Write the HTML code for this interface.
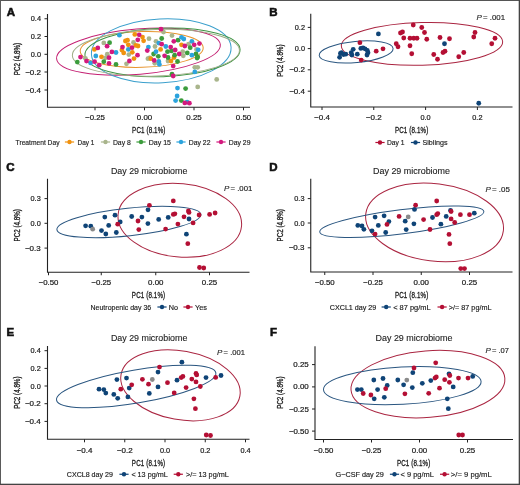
<!DOCTYPE html>
<html><head><meta charset="utf-8"><style>
html,body{margin:0;padding:0;width:520px;height:485px;overflow:hidden;background:#fff;}
svg text{font-family:"Liberation Sans", sans-serif;}
svg{filter:contrast(1);}
</style></head><body>
<svg width="520" height="485" viewBox="0 0 520 485" style="position:absolute;left:0;top:0">
<rect x="0" y="0" width="520" height="485" fill="#fff"/>
<text x="6.7" y="15.6" font-size="11.5" text-anchor="start" font-weight="bold" fill="#111" stroke="#111" stroke-width="0.6" font-style="normal">A</text>
<ellipse cx="138.46" cy="51.65" rx="82.16" ry="22.64" transform="rotate(-4.93 138.46 51.65)" fill="none" stroke="#C41F72" stroke-width="1.0"/>
<ellipse cx="141.69" cy="49.39" rx="61.52" ry="17.92" transform="rotate(-1.58 141.69 49.39)" fill="none" stroke="#E8952E" stroke-width="1.0"/>
<ellipse cx="161.24" cy="50.79" rx="69.92" ry="31.95" transform="rotate(-2.83 161.24 50.79)" fill="none" stroke="#3A9FCC" stroke-width="1.0"/>
<ellipse cx="162.51" cy="52.43" rx="77.62" ry="24.25" transform="rotate(-2.09 162.51 52.43)" fill="none" stroke="#3F9444" stroke-width="1.0"/>
<ellipse cx="155.91" cy="52.8" rx="83.59" ry="23.27" transform="rotate(-1.83 155.91 52.8)" fill="none" stroke="#9EAE86" stroke-width="1.0"/>
<circle cx="105.5" cy="57.8" r="2.4" fill="#A9B58C"/>
<circle cx="155" cy="46.5" r="2.4" fill="#A9B58C"/>
<circle cx="85.4" cy="58.3" r="2.4" fill="#A9B58C"/>
<circle cx="103.8" cy="42.9" r="2.4" fill="#A9B58C"/>
<circle cx="107.3" cy="54.2" r="2.4" fill="#A9B58C"/>
<circle cx="149" cy="38.7" r="2.4" fill="#A9B58C"/>
<circle cx="133.5" cy="42.5" r="2.4" fill="#A9B58C"/>
<circle cx="128.8" cy="54.6" r="2.4" fill="#A9B58C"/>
<circle cx="156" cy="41.3" r="2.4" fill="#A9B58C"/>
<circle cx="149.6" cy="58" r="2.4" fill="#A9B58C"/>
<circle cx="163.5" cy="32.1" r="2.4" fill="#A9B58C"/>
<circle cx="172" cy="35.6" r="2.4" fill="#A9B58C"/>
<circle cx="188.5" cy="44.2" r="2.4" fill="#A9B58C"/>
<circle cx="196.5" cy="49.4" r="2.4" fill="#A9B58C"/>
<circle cx="182.7" cy="51.7" r="2.4" fill="#A9B58C"/>
<circle cx="183.3" cy="55.8" r="2.4" fill="#A9B58C"/>
<circle cx="126.5" cy="63.8" r="2.4" fill="#A9B58C"/>
<circle cx="147.9" cy="58.7" r="2.4" fill="#A9B58C"/>
<circle cx="154.8" cy="63.3" r="2.4" fill="#A9B58C"/>
<circle cx="168" cy="61" r="2.4" fill="#A9B58C"/>
<circle cx="194.8" cy="67.3" r="2.4" fill="#A9B58C"/>
<circle cx="197.7" cy="67.3" r="2.4" fill="#A9B58C"/>
<circle cx="216.7" cy="79.4" r="2.4" fill="#A9B58C"/>
<circle cx="197.7" cy="86.9" r="2.4" fill="#A9B58C"/>
<circle cx="94.4" cy="49.4" r="2.4" fill="#F0920F"/>
<circle cx="101.5" cy="56.8" r="2.4" fill="#F0920F"/>
<circle cx="134.8" cy="34.4" r="2.4" fill="#F0920F"/>
<circle cx="142.5" cy="37.1" r="2.4" fill="#F0920F"/>
<circle cx="143.6" cy="40.8" r="2.4" fill="#F0920F"/>
<circle cx="125.4" cy="41" r="2.4" fill="#F0920F"/>
<circle cx="127.5" cy="40.2" r="2.4" fill="#F0920F"/>
<circle cx="128.3" cy="44.8" r="2.4" fill="#F0920F"/>
<circle cx="135.8" cy="45.4" r="2.4" fill="#F0920F"/>
<circle cx="138" cy="46" r="2.4" fill="#F0920F"/>
<circle cx="121.9" cy="50" r="2.4" fill="#F0920F"/>
<circle cx="123.7" cy="52.9" r="2.4" fill="#F0920F"/>
<circle cx="132.3" cy="52.3" r="2.4" fill="#F0920F"/>
<circle cx="160.6" cy="49.4" r="2.4" fill="#F0920F"/>
<circle cx="134" cy="58.6" r="2.4" fill="#F0920F"/>
<circle cx="181.5" cy="44.8" r="2.4" fill="#F0920F"/>
<circle cx="174" cy="57.5" r="2.4" fill="#F0920F"/>
<circle cx="150.8" cy="58.7" r="2.4" fill="#F0920F"/>
<circle cx="171" cy="61" r="2.4" fill="#F0920F"/>
<circle cx="77.3" cy="62.1" r="2.4" fill="#3C9C3C"/>
<circle cx="103.8" cy="61.7" r="2.4" fill="#3C9C3C"/>
<circle cx="109.6" cy="42.7" r="2.4" fill="#3C9C3C"/>
<circle cx="116" cy="64.4" r="2.4" fill="#3C9C3C"/>
<circle cx="161.7" cy="38.5" r="2.4" fill="#3C9C3C"/>
<circle cx="153.6" cy="54" r="2.4" fill="#3C9C3C"/>
<circle cx="167.5" cy="51.7" r="2.4" fill="#3C9C3C"/>
<circle cx="171.5" cy="50.9" r="2.4" fill="#3C9C3C"/>
<circle cx="158.3" cy="56.3" r="2.4" fill="#3C9C3C"/>
<circle cx="178" cy="40.2" r="2.4" fill="#3C9C3C"/>
<circle cx="190.2" cy="47.7" r="2.4" fill="#3C9C3C"/>
<circle cx="187.3" cy="52.9" r="2.4" fill="#3C9C3C"/>
<circle cx="196" cy="54" r="2.4" fill="#3C9C3C"/>
<circle cx="197.7" cy="56.9" r="2.4" fill="#3C9C3C"/>
<circle cx="168" cy="57.5" r="2.4" fill="#3C9C3C"/>
<circle cx="172" cy="74.2" r="2.4" fill="#3C9C3C"/>
<circle cx="177.5" cy="61.5" r="2.4" fill="#3C9C3C"/>
<circle cx="174.6" cy="55.2" r="2.4" fill="#3C9C3C"/>
<circle cx="197.1" cy="58.1" r="2.4" fill="#3C9C3C"/>
<circle cx="185.6" cy="88.6" r="2.4" fill="#3C9C3C"/>
<circle cx="181.3" cy="100.6" r="2.4" fill="#3C9C3C"/>
<circle cx="198.2" cy="49.8" r="2.4" fill="#2BA3DD"/>
<circle cx="90.6" cy="62.9" r="2.4" fill="#2BA3DD"/>
<circle cx="95.8" cy="56" r="2.4" fill="#2BA3DD"/>
<circle cx="116" cy="52.5" r="2.4" fill="#2BA3DD"/>
<circle cx="119.4" cy="35.2" r="2.4" fill="#2BA3DD"/>
<circle cx="148.4" cy="47.1" r="2.4" fill="#2BA3DD"/>
<circle cx="158.8" cy="43.1" r="2.4" fill="#2BA3DD"/>
<circle cx="165.8" cy="46.5" r="2.4" fill="#2BA3DD"/>
<circle cx="156" cy="51.7" r="2.4" fill="#2BA3DD"/>
<circle cx="128.3" cy="49.4" r="2.4" fill="#2BA3DD"/>
<circle cx="181.5" cy="37.3" r="2.4" fill="#2BA3DD"/>
<circle cx="183.8" cy="39" r="2.4" fill="#2BA3DD"/>
<circle cx="191.9" cy="41.3" r="2.4" fill="#2BA3DD"/>
<circle cx="191.9" cy="55.2" r="2.4" fill="#2BA3DD"/>
<circle cx="158.8" cy="61.5" r="2.4" fill="#2BA3DD"/>
<circle cx="159.4" cy="64.4" r="2.4" fill="#2BA3DD"/>
<circle cx="194.8" cy="71.9" r="2.4" fill="#2BA3DD"/>
<circle cx="177.5" cy="88.1" r="2.4" fill="#2BA3DD"/>
<circle cx="177.1" cy="96" r="2.4" fill="#2BA3DD"/>
<circle cx="175.6" cy="100.6" r="2.4" fill="#2BA3DD"/>
<circle cx="187.1" cy="102.1" r="2.4" fill="#2BA3DD"/>
<circle cx="80.5" cy="57.1" r="2.4" fill="#D3197E"/>
<circle cx="86.5" cy="61.1" r="2.4" fill="#D3197E"/>
<circle cx="97.8" cy="47.9" r="2.4" fill="#D3197E"/>
<circle cx="94.6" cy="61.7" r="2.4" fill="#D3197E"/>
<circle cx="99.2" cy="65.2" r="2.4" fill="#D3197E"/>
<circle cx="107.1" cy="46.2" r="2.4" fill="#D3197E"/>
<circle cx="111.9" cy="51.9" r="2.4" fill="#D3197E"/>
<circle cx="109" cy="57.7" r="2.4" fill="#D3197E"/>
<circle cx="109" cy="63.4" r="2.4" fill="#D3197E"/>
<circle cx="139.2" cy="34.8" r="2.4" fill="#D3197E"/>
<circle cx="137.8" cy="39.8" r="2.4" fill="#D3197E"/>
<circle cx="122.5" cy="47.1" r="2.4" fill="#D3197E"/>
<circle cx="132" cy="47.7" r="2.4" fill="#D3197E"/>
<circle cx="137.5" cy="55.2" r="2.4" fill="#D3197E"/>
<circle cx="147.3" cy="50.6" r="2.4" fill="#D3197E"/>
<circle cx="161.7" cy="44.2" r="2.4" fill="#D3197E"/>
<circle cx="170.7" cy="47.1" r="2.4" fill="#D3197E"/>
<circle cx="164.6" cy="55.8" r="2.4" fill="#D3197E"/>
<circle cx="161" cy="29.2" r="2.4" fill="#D3197E"/>
<circle cx="173.8" cy="41.3" r="2.4" fill="#D3197E"/>
<circle cx="199.4" cy="43.6" r="2.4" fill="#D3197E"/>
<circle cx="194.2" cy="44.8" r="2.4" fill="#D3197E"/>
<circle cx="184.8" cy="46" r="2.4" fill="#D3197E"/>
<circle cx="175.2" cy="50" r="2.4" fill="#D3197E"/>
<circle cx="179.2" cy="54" r="2.4" fill="#D3197E"/>
<circle cx="129.4" cy="61" r="2.4" fill="#D3197E"/>
<circle cx="154.2" cy="60.4" r="2.4" fill="#D3197E"/>
<circle cx="173.2" cy="66.1" r="2.4" fill="#D3197E"/>
<circle cx="173.2" cy="76" r="2.4" fill="#D3197E"/>
<circle cx="184.8" cy="102.9" r="2.4" fill="#D3197E"/>
<circle cx="189.4" cy="103.2" r="2.4" fill="#D3197E"/>
<path d="M47.5 14 V107.3 H250" fill="none" stroke="#222" stroke-width="1.1"/>
<line x1="44.5" y1="18.75" x2="47.5" y2="18.75" stroke="#222" stroke-width="1"/>
<text x="41" y="21.342" font-size="7.2" text-anchor="end" font-weight="normal" fill="#1a1a1a" stroke="#1a1a1a" stroke-width="0.2" font-style="normal" textLength="10.2" lengthAdjust="spacingAndGlyphs">0.4</text>
<line x1="44.5" y1="36.5" x2="47.5" y2="36.5" stroke="#222" stroke-width="1"/>
<text x="41" y="39.092" font-size="7.2" text-anchor="end" font-weight="normal" fill="#1a1a1a" stroke="#1a1a1a" stroke-width="0.2" font-style="normal" textLength="10.2" lengthAdjust="spacingAndGlyphs">0.2</text>
<line x1="44.5" y1="54.3" x2="47.5" y2="54.3" stroke="#222" stroke-width="1"/>
<text x="41" y="56.891999999999996" font-size="7.2" text-anchor="end" font-weight="normal" fill="#1a1a1a" stroke="#1a1a1a" stroke-width="0.2" font-style="normal" textLength="10.2" lengthAdjust="spacingAndGlyphs">0.0</text>
<line x1="44.5" y1="72" x2="47.5" y2="72" stroke="#222" stroke-width="1"/>
<text x="41" y="74.592" font-size="7.2" text-anchor="end" font-weight="normal" fill="#1a1a1a" stroke="#1a1a1a" stroke-width="0.2" font-style="normal" textLength="15.8" lengthAdjust="spacingAndGlyphs">−0.2</text>
<line x1="44.5" y1="90" x2="47.5" y2="90" stroke="#222" stroke-width="1"/>
<text x="41" y="92.592" font-size="7.2" text-anchor="end" font-weight="normal" fill="#1a1a1a" stroke="#1a1a1a" stroke-width="0.2" font-style="normal" textLength="15.8" lengthAdjust="spacingAndGlyphs">−0.4</text>
<line x1="95" y1="107.3" x2="95" y2="110.3" stroke="#222" stroke-width="1"/>
<text x="95" y="119.9" font-size="7.2" text-anchor="middle" font-weight="normal" fill="#1a1a1a" stroke="#1a1a1a" stroke-width="0.2" font-style="normal" textLength="19.8" lengthAdjust="spacingAndGlyphs">−0.25</text>
<line x1="144.5" y1="107.3" x2="144.5" y2="110.3" stroke="#222" stroke-width="1"/>
<text x="144.5" y="119.9" font-size="7.2" text-anchor="middle" font-weight="normal" fill="#1a1a1a" stroke="#1a1a1a" stroke-width="0.2" font-style="normal" textLength="15.4" lengthAdjust="spacingAndGlyphs">0.00</text>
<line x1="194" y1="107.3" x2="194" y2="110.3" stroke="#222" stroke-width="1"/>
<text x="194" y="119.9" font-size="7.2" text-anchor="middle" font-weight="normal" fill="#1a1a1a" stroke="#1a1a1a" stroke-width="0.2" font-style="normal" textLength="15.4" lengthAdjust="spacingAndGlyphs">0.25</text>
<line x1="243.5" y1="107.3" x2="243.5" y2="110.3" stroke="#222" stroke-width="1"/>
<text x="243.5" y="119.9" font-size="7.2" text-anchor="middle" font-weight="normal" fill="#1a1a1a" stroke="#1a1a1a" stroke-width="0.2" font-style="normal" textLength="15.4" lengthAdjust="spacingAndGlyphs">0.50</text>
<text transform="translate(148.75,132.7) scale(0.7,1)" x="0" y="0" font-size="8.9" text-anchor="middle" font-weight="normal" fill="#1c1c1c" stroke="#1c1c1c" stroke-width="0.32" font-style="normal" textLength="47.57" lengthAdjust="spacing">PC1 (8.1%)</text>
<text transform="translate(20.0,59.0) rotate(-90) scale(0.7,1)" x="0" y="0" font-size="8.9" text-anchor="middle" font-weight="normal" fill="#1c1c1c" stroke="#1c1c1c" stroke-width="0.32" font-style="normal" textLength="46.14" lengthAdjust="spacing">PC2 (4.8%)</text>
<text x="15.6" y="144.7" font-size="7.4" text-anchor="start" font-weight="normal" fill="#1c1c1c" stroke="#1c1c1c" stroke-width="0.16" font-style="normal" textLength="43.9" lengthAdjust="spacingAndGlyphs">Treatment Day</text>
<line x1="64.9" y1="142" x2="74.1" y2="142" stroke="#F0920F" stroke-width="1.2"/>
<circle cx="69.5" cy="142" r="2.2" fill="#F0920F"/>
<text x="77.5" y="144.7" font-size="7.4" text-anchor="start" font-weight="normal" fill="#1c1c1c" stroke="#1c1c1c" stroke-width="0.16" font-style="normal" textLength="16.8" lengthAdjust="spacingAndGlyphs">Day 1</text>
<line x1="100.9" y1="142" x2="110.1" y2="142" stroke="#A9B58C" stroke-width="1.2"/>
<circle cx="105.5" cy="142" r="2.2" fill="#A9B58C"/>
<text x="112.9" y="144.7" font-size="7.4" text-anchor="start" font-weight="normal" fill="#1c1c1c" stroke="#1c1c1c" stroke-width="0.16" font-style="normal" textLength="17.9" lengthAdjust="spacingAndGlyphs">Day 8</text>
<line x1="136.4" y1="142" x2="145.6" y2="142" stroke="#3C9C3C" stroke-width="1.2"/>
<circle cx="141" cy="142" r="2.2" fill="#3C9C3C"/>
<text x="148.8" y="144.7" font-size="7.4" text-anchor="start" font-weight="normal" fill="#1c1c1c" stroke="#1c1c1c" stroke-width="0.16" font-style="normal" textLength="22.2" lengthAdjust="spacingAndGlyphs">Day 15</text>
<line x1="176.4" y1="142" x2="185.6" y2="142" stroke="#2BA3DD" stroke-width="1.2"/>
<circle cx="181" cy="142" r="2.2" fill="#2BA3DD"/>
<text x="188.75" y="144.7" font-size="7.4" text-anchor="start" font-weight="normal" fill="#1c1c1c" stroke="#1c1c1c" stroke-width="0.16" font-style="normal" textLength="21.75" lengthAdjust="spacingAndGlyphs">Day 22</text>
<line x1="216.4" y1="142" x2="225.6" y2="142" stroke="#D3197E" stroke-width="1.2"/>
<circle cx="221" cy="142" r="2.2" fill="#D3197E"/>
<text x="228.75" y="144.7" font-size="7.4" text-anchor="start" font-weight="normal" fill="#1c1c1c" stroke="#1c1c1c" stroke-width="0.16" font-style="normal" textLength="21.75" lengthAdjust="spacingAndGlyphs">Day 29</text>
<text x="269.2" y="15.6" font-size="11.5" text-anchor="start" font-weight="bold" fill="#111" stroke="#111" stroke-width="0.6" font-style="normal">B</text>
<ellipse cx="422" cy="43.9" rx="80.7" ry="21.3" transform="rotate(-1.5 422 43.9)" fill="none" stroke="#AA2541" stroke-width="1.0"/>
<ellipse cx="356.15" cy="51.95" rx="37.12" ry="10.54" transform="rotate(-5.37 356.15 51.95)" fill="none" stroke="#2A5680" stroke-width="1.0"/>
<circle cx="413.25" cy="25" r="2.4" fill="#B40F34"/>
<circle cx="421.75" cy="27.5" r="2.4" fill="#B40F34"/>
<circle cx="424.5" cy="32.5" r="2.4" fill="#B40F34"/>
<circle cx="400.5" cy="33" r="2.4" fill="#B40F34"/>
<circle cx="402.5" cy="32" r="2.4" fill="#B40F34"/>
<circle cx="475" cy="32.5" r="2.4" fill="#B40F34"/>
<circle cx="403.75" cy="38" r="2.4" fill="#B40F34"/>
<circle cx="410" cy="38.25" r="2.4" fill="#B40F34"/>
<circle cx="413.75" cy="38.25" r="2.4" fill="#B40F34"/>
<circle cx="417" cy="38.25" r="2.4" fill="#B40F34"/>
<circle cx="426.75" cy="39.25" r="2.4" fill="#B40F34"/>
<circle cx="440" cy="37.5" r="2.4" fill="#B40F34"/>
<circle cx="449.5" cy="38.75" r="2.4" fill="#B40F34"/>
<circle cx="473.75" cy="37" r="2.4" fill="#B40F34"/>
<circle cx="495" cy="38.25" r="2.4" fill="#B40F34"/>
<circle cx="491.75" cy="43.75" r="2.4" fill="#B40F34"/>
<circle cx="396.25" cy="43.75" r="2.4" fill="#B40F34"/>
<circle cx="398" cy="46.75" r="2.4" fill="#B40F34"/>
<circle cx="410" cy="45.75" r="2.4" fill="#B40F34"/>
<circle cx="445" cy="51.25" r="2.4" fill="#B40F34"/>
<circle cx="443" cy="52.5" r="2.4" fill="#B40F34"/>
<circle cx="463.75" cy="52.5" r="2.4" fill="#B40F34"/>
<circle cx="458.75" cy="56.75" r="2.4" fill="#B40F34"/>
<circle cx="433.75" cy="54.5" r="2.4" fill="#B40F34"/>
<circle cx="437.5" cy="59.25" r="2.4" fill="#B40F34"/>
<circle cx="411.75" cy="53.75" r="2.4" fill="#B40F34"/>
<circle cx="359.9" cy="42.7" r="2.4" fill="#B40F34"/>
<circle cx="376.2" cy="51.2" r="2.4" fill="#B40F34"/>
<circle cx="383" cy="48.8" r="2.4" fill="#B40F34"/>
<circle cx="361.2" cy="60.1" r="2.4" fill="#B40F34"/>
<circle cx="378.4" cy="33.9" r="2.4" fill="#0F4477"/>
<circle cx="340.4" cy="53.5" r="2.4" fill="#0F4477"/>
<circle cx="341.5" cy="52.7" r="2.4" fill="#0F4477"/>
<circle cx="339.6" cy="57.3" r="2.4" fill="#0F4477"/>
<circle cx="343.5" cy="54.5" r="2.4" fill="#0F4477"/>
<circle cx="345.8" cy="54.2" r="2.4" fill="#0F4477"/>
<circle cx="351.2" cy="52.7" r="2.4" fill="#0F4477"/>
<circle cx="353.2" cy="49.3" r="2.4" fill="#0F4477"/>
<circle cx="357.3" cy="54.2" r="2.4" fill="#0F4477"/>
<circle cx="360.8" cy="48.4" r="2.4" fill="#0F4477"/>
<circle cx="363" cy="47.8" r="2.4" fill="#0F4477"/>
<circle cx="365" cy="48.8" r="2.4" fill="#0F4477"/>
<circle cx="367.3" cy="50.4" r="2.4" fill="#0F4477"/>
<circle cx="368" cy="52.7" r="2.4" fill="#0F4477"/>
<circle cx="367" cy="55" r="2.4" fill="#0F4477"/>
<circle cx="351.9" cy="55" r="2.4" fill="#0F4477"/>
<circle cx="444.5" cy="43.75" r="2.4" fill="#0F4477"/>
<circle cx="478.75" cy="103.25" r="2.4" fill="#0F4477"/>
<path d="M310.75 13.8 V107 H512.5" fill="none" stroke="#222" stroke-width="1.1"/>
<line x1="307.75" y1="27.4" x2="310.75" y2="27.4" stroke="#222" stroke-width="1"/>
<text x="305" y="29.991999999999997" font-size="7.2" text-anchor="end" font-weight="normal" fill="#1a1a1a" stroke="#1a1a1a" stroke-width="0.2" font-style="normal" textLength="10.2" lengthAdjust="spacingAndGlyphs">0.2</text>
<line x1="307.75" y1="48.6" x2="310.75" y2="48.6" stroke="#222" stroke-width="1"/>
<text x="305" y="51.192" font-size="7.2" text-anchor="end" font-weight="normal" fill="#1a1a1a" stroke="#1a1a1a" stroke-width="0.2" font-style="normal" textLength="10.2" lengthAdjust="spacingAndGlyphs">0.0</text>
<line x1="307.75" y1="69.8" x2="310.75" y2="69.8" stroke="#222" stroke-width="1"/>
<text x="305" y="72.392" font-size="7.2" text-anchor="end" font-weight="normal" fill="#1a1a1a" stroke="#1a1a1a" stroke-width="0.2" font-style="normal" textLength="15.8" lengthAdjust="spacingAndGlyphs">−0.2</text>
<line x1="307.75" y1="91.2" x2="310.75" y2="91.2" stroke="#222" stroke-width="1"/>
<text x="305" y="93.792" font-size="7.2" text-anchor="end" font-weight="normal" fill="#1a1a1a" stroke="#1a1a1a" stroke-width="0.2" font-style="normal" textLength="15.8" lengthAdjust="spacingAndGlyphs">−0.4</text>
<line x1="322" y1="107" x2="322" y2="110" stroke="#222" stroke-width="1"/>
<text x="322" y="120" font-size="7.2" text-anchor="middle" font-weight="normal" fill="#1a1a1a" stroke="#1a1a1a" stroke-width="0.2" font-style="normal" textLength="15.8" lengthAdjust="spacingAndGlyphs">−0.4</text>
<line x1="373.75" y1="107" x2="373.75" y2="110" stroke="#222" stroke-width="1"/>
<text x="373.75" y="120" font-size="7.2" text-anchor="middle" font-weight="normal" fill="#1a1a1a" stroke="#1a1a1a" stroke-width="0.2" font-style="normal" textLength="15.8" lengthAdjust="spacingAndGlyphs">−0.2</text>
<line x1="425.6" y1="107" x2="425.6" y2="110" stroke="#222" stroke-width="1"/>
<text x="425.6" y="120" font-size="7.2" text-anchor="middle" font-weight="normal" fill="#1a1a1a" stroke="#1a1a1a" stroke-width="0.2" font-style="normal" textLength="10.2" lengthAdjust="spacingAndGlyphs">0.0</text>
<line x1="477.4" y1="107" x2="477.4" y2="110" stroke="#222" stroke-width="1"/>
<text x="477.4" y="120" font-size="7.2" text-anchor="middle" font-weight="normal" fill="#1a1a1a" stroke="#1a1a1a" stroke-width="0.2" font-style="normal" textLength="10.2" lengthAdjust="spacingAndGlyphs">0.2</text>
<text transform="translate(411.6,132.9) scale(0.7,1)" x="0" y="0" font-size="8.9" text-anchor="middle" font-weight="normal" fill="#1c1c1c" stroke="#1c1c1c" stroke-width="0.32" font-style="normal" textLength="47.57" lengthAdjust="spacing">PC1 (8.1%)</text>
<text transform="translate(282.7,60.65) rotate(-90) scale(0.7,1)" x="0" y="0" font-size="8.9" text-anchor="middle" font-weight="normal" fill="#1c1c1c" stroke="#1c1c1c" stroke-width="0.32" font-style="normal" textLength="46.14" lengthAdjust="spacing">PC2 (4.8%)</text>
<text x="476.5" y="19.9" font-size="8.0" text-anchor="start" font-weight="normal" fill="#222" stroke="#222" stroke-width="0.12" font-style="italic">P</text>
<text x="483.1" y="19.9" font-size="8.0" text-anchor="start" font-weight="normal" fill="#222" stroke="#222" stroke-width="0.16" font-style="normal" textLength="21.9" lengthAdjust="spacingAndGlyphs">= .001</text>
<line x1="375.4" y1="142.5" x2="384.6" y2="142.5" stroke="#B40F34" stroke-width="1.2"/>
<circle cx="380" cy="142.5" r="2.2" fill="#B40F34"/>
<text x="387" y="145.2" font-size="7.4" text-anchor="start" font-weight="normal" fill="#1c1c1c" stroke="#1c1c1c" stroke-width="0.16" font-style="normal" textLength="17.5" lengthAdjust="spacingAndGlyphs">Day 1</text>
<line x1="410.9" y1="142.5" x2="420.1" y2="142.5" stroke="#0F4477" stroke-width="1.2"/>
<circle cx="415.5" cy="142.5" r="2.2" fill="#0F4477"/>
<text x="422.5" y="145.2" font-size="7.4" text-anchor="start" font-weight="normal" fill="#1c1c1c" stroke="#1c1c1c" stroke-width="0.16" font-style="normal" textLength="25" lengthAdjust="spacingAndGlyphs">Siblings</text>
<text x="6.2" y="170.9" font-size="11.5" text-anchor="start" font-weight="bold" fill="#111" stroke="#111" stroke-width="0.6" font-style="normal">C</text>
<text x="110.9" y="173.75" font-size="9.0" text-anchor="start" font-weight="normal" fill="#1c1c1c" stroke="#1c1c1c" stroke-width="0.12" font-style="normal" textLength="76.5" lengthAdjust="spacingAndGlyphs">Day 29 microbiome</text>
<ellipse cx="179.8" cy="220.3" rx="62.0" ry="36.7" transform="rotate(5.5 179.8 220.3)" fill="none" stroke="#AA2541" stroke-width="1.0"/>
<ellipse cx="128.9" cy="222.0" rx="72.4" ry="13.8" transform="rotate(-6.01 128.9 222.0)" fill="none" stroke="#2A5680" stroke-width="1.0"/>
<circle cx="85.6" cy="225.8" r="2.4" fill="#0F4477"/>
<circle cx="90.8" cy="226.2" r="2.4" fill="#0F4477"/>
<circle cx="104.8" cy="217.1" r="2.4" fill="#0F4477"/>
<circle cx="115" cy="215.2" r="2.4" fill="#0F4477"/>
<circle cx="108.7" cy="225.4" r="2.4" fill="#0F4477"/>
<circle cx="101.5" cy="230.6" r="2.4" fill="#0F4477"/>
<circle cx="105.8" cy="234" r="2.4" fill="#0F4477"/>
<circle cx="116.3" cy="232.5" r="2.4" fill="#0F4477"/>
<circle cx="120.2" cy="221.9" r="2.4" fill="#0F4477"/>
<circle cx="131.7" cy="216.5" r="2.4" fill="#0F4477"/>
<circle cx="141.9" cy="217.1" r="2.4" fill="#0F4477"/>
<circle cx="147.9" cy="223.6" r="2.4" fill="#0F4477"/>
<circle cx="148" cy="209.8" r="2.4" fill="#0F4477"/>
<circle cx="158.7" cy="219.4" r="2.4" fill="#0F4477"/>
<circle cx="168.2" cy="217.4" r="2.4" fill="#0F4477"/>
<circle cx="189" cy="219" r="2.4" fill="#0F4477"/>
<circle cx="186.4" cy="234.2" r="2.4" fill="#0F4477"/>
<circle cx="92.7" cy="229.2" r="2.4" fill="#8A8A8A"/>
<circle cx="117.7" cy="224.2" r="2.4" fill="#B40F34"/>
<circle cx="138" cy="221" r="2.4" fill="#B40F34"/>
<circle cx="138.8" cy="229.6" r="2.4" fill="#B40F34"/>
<circle cx="149.4" cy="205.3" r="2.4" fill="#B40F34"/>
<circle cx="173.3" cy="200.9" r="2.4" fill="#B40F34"/>
<circle cx="173.3" cy="214.4" r="2.4" fill="#B40F34"/>
<circle cx="174.9" cy="213.8" r="2.4" fill="#B40F34"/>
<circle cx="184" cy="216.8" r="2.4" fill="#B40F34"/>
<circle cx="188.4" cy="211" r="2.4" fill="#B40F34"/>
<circle cx="189" cy="212.4" r="2.4" fill="#B40F34"/>
<circle cx="199.1" cy="215" r="2.4" fill="#B40F34"/>
<circle cx="209.6" cy="214.4" r="2.4" fill="#B40F34"/>
<circle cx="215.1" cy="213" r="2.4" fill="#B40F34"/>
<circle cx="177.9" cy="224.1" r="2.4" fill="#B40F34"/>
<circle cx="193.1" cy="222.9" r="2.4" fill="#B40F34"/>
<circle cx="165.6" cy="229.1" r="2.4" fill="#B40F34"/>
<circle cx="187.8" cy="243.7" r="2.4" fill="#B40F34"/>
<circle cx="199.5" cy="267.5" r="2.4" fill="#B40F34"/>
<circle cx="203.75" cy="268" r="2.4" fill="#B40F34"/>
<path d="M47.5 178.75 V272.25 H249.5" fill="none" stroke="#222" stroke-width="1.1"/>
<line x1="44.5" y1="198.6" x2="47.5" y2="198.6" stroke="#222" stroke-width="1"/>
<text x="40.75" y="201.192" font-size="7.2" text-anchor="end" font-weight="normal" fill="#1a1a1a" stroke="#1a1a1a" stroke-width="0.2" font-style="normal" textLength="10.2" lengthAdjust="spacingAndGlyphs">0.3</text>
<line x1="44.5" y1="223.3" x2="47.5" y2="223.3" stroke="#222" stroke-width="1"/>
<text x="40.75" y="225.89200000000002" font-size="7.2" text-anchor="end" font-weight="normal" fill="#1a1a1a" stroke="#1a1a1a" stroke-width="0.2" font-style="normal" textLength="10.2" lengthAdjust="spacingAndGlyphs">0.0</text>
<line x1="44.5" y1="248.1" x2="47.5" y2="248.1" stroke="#222" stroke-width="1"/>
<text x="40.75" y="250.692" font-size="7.2" text-anchor="end" font-weight="normal" fill="#1a1a1a" stroke="#1a1a1a" stroke-width="0.2" font-style="normal" textLength="15.8" lengthAdjust="spacingAndGlyphs">−0.3</text>
<line x1="48.5" y1="272.25" x2="48.5" y2="275.25" stroke="#222" stroke-width="1"/>
<text x="48.5" y="285" font-size="7.2" text-anchor="middle" font-weight="normal" fill="#1a1a1a" stroke="#1a1a1a" stroke-width="0.2" font-style="normal" textLength="19.8" lengthAdjust="spacingAndGlyphs">−0.50</text>
<line x1="101.25" y1="272.25" x2="101.25" y2="275.25" stroke="#222" stroke-width="1"/>
<text x="101.25" y="285" font-size="7.2" text-anchor="middle" font-weight="normal" fill="#1a1a1a" stroke="#1a1a1a" stroke-width="0.2" font-style="normal" textLength="19.8" lengthAdjust="spacingAndGlyphs">−0.25</text>
<line x1="155.75" y1="272.25" x2="155.75" y2="275.25" stroke="#222" stroke-width="1"/>
<text x="155.75" y="285" font-size="7.2" text-anchor="middle" font-weight="normal" fill="#1a1a1a" stroke="#1a1a1a" stroke-width="0.2" font-style="normal" textLength="15.4" lengthAdjust="spacingAndGlyphs">0.00</text>
<line x1="209.5" y1="272.25" x2="209.5" y2="275.25" stroke="#222" stroke-width="1"/>
<text x="209.5" y="285" font-size="7.2" text-anchor="middle" font-weight="normal" fill="#1a1a1a" stroke="#1a1a1a" stroke-width="0.2" font-style="normal" textLength="15.4" lengthAdjust="spacingAndGlyphs">0.25</text>
<text transform="translate(148.5,298.0) scale(0.7,1)" x="0" y="0" font-size="8.9" text-anchor="middle" font-weight="normal" fill="#1c1c1c" stroke="#1c1c1c" stroke-width="0.32" font-style="normal" textLength="47.57" lengthAdjust="spacing">PC1 (8.1%)</text>
<text transform="translate(20.0,225.25) rotate(-90) scale(0.7,1)" x="0" y="0" font-size="8.9" text-anchor="middle" font-weight="normal" fill="#1c1c1c" stroke="#1c1c1c" stroke-width="0.32" font-style="normal" textLength="46.14" lengthAdjust="spacing">PC2 (4.8%)</text>
<text x="223.9" y="190.9" font-size="8.0" text-anchor="start" font-weight="normal" fill="#222" stroke="#222" stroke-width="0.12" font-style="italic">P</text>
<text x="230.5" y="190.9" font-size="8.0" text-anchor="start" font-weight="normal" fill="#222" stroke="#222" stroke-width="0.16" font-style="normal" textLength="21.8" lengthAdjust="spacingAndGlyphs">= .001</text>
<text x="90.5" y="309.7" font-size="7.4" text-anchor="start" font-weight="normal" fill="#1c1c1c" stroke="#1c1c1c" stroke-width="0.16" font-style="normal" textLength="60.75" lengthAdjust="spacingAndGlyphs">Neutropenic day 36</text>
<line x1="157.4" y1="307" x2="166.6" y2="307" stroke="#0F4477" stroke-width="1.2"/>
<circle cx="162" cy="307" r="2.2" fill="#0F4477"/>
<text x="168.75" y="309.7" font-size="7.4" text-anchor="start" font-weight="normal" fill="#1c1c1c" stroke="#1c1c1c" stroke-width="0.16" font-style="normal" textLength="9.25" lengthAdjust="spacingAndGlyphs">No</text>
<line x1="183.4" y1="307" x2="192.6" y2="307" stroke="#B40F34" stroke-width="1.2"/>
<circle cx="188" cy="307" r="2.2" fill="#B40F34"/>
<text x="195" y="309.7" font-size="7.4" text-anchor="start" font-weight="normal" fill="#1c1c1c" stroke="#1c1c1c" stroke-width="0.16" font-style="normal" textLength="12" lengthAdjust="spacingAndGlyphs">Yes</text>
<text x="269.2" y="171.3" font-size="11.5" text-anchor="start" font-weight="bold" fill="#111" stroke="#111" stroke-width="0.6" font-style="normal">D</text>
<text x="373" y="173.75" font-size="9.0" text-anchor="start" font-weight="normal" fill="#1c1c1c" stroke="#1c1c1c" stroke-width="0.12" font-style="normal" textLength="77" lengthAdjust="spacingAndGlyphs">Day 29 microbiome</text>
<ellipse cx="434.55" cy="222.39" rx="69.31" ry="38.73" transform="rotate(7.08 434.55 222.39)" fill="none" stroke="#AA2541" stroke-width="1.0"/>
<ellipse cx="401.8" cy="221.7" rx="82.7" ry="12.1" transform="rotate(-7.14 401.8 221.7)" fill="none" stroke="#2A5680" stroke-width="1.0"/>
<circle cx="357.8" cy="225.4" r="2.4" fill="#0F4477"/>
<circle cx="362" cy="226.0" r="2.4" fill="#0F4477"/>
<circle cx="363.9" cy="229.3" r="2.4" fill="#0F4477"/>
<circle cx="372" cy="230.8" r="2.4" fill="#0F4477"/>
<circle cx="375.1" cy="217.1" r="2.4" fill="#0F4477"/>
<circle cx="384.1" cy="215.8" r="2.4" fill="#0F4477"/>
<circle cx="378.3" cy="225.4" r="2.4" fill="#0F4477"/>
<circle cx="388.9" cy="221.6" r="2.4" fill="#0F4477"/>
<circle cx="385.7" cy="232.5" r="2.4" fill="#0F4477"/>
<circle cx="405.2" cy="221.2" r="2.4" fill="#0F4477"/>
<circle cx="406.2" cy="229.6" r="2.4" fill="#0F4477"/>
<circle cx="414.5" cy="209.4" r="2.4" fill="#0F4477"/>
<circle cx="413.9" cy="223.8" r="2.4" fill="#0F4477"/>
<circle cx="432.5" cy="217.5" r="2.4" fill="#0F4477"/>
<circle cx="446.2" cy="216.4" r="2.4" fill="#0F4477"/>
<circle cx="450.5" cy="210.5" r="2.4" fill="#0F4477"/>
<circle cx="474.3" cy="213.2" r="2.4" fill="#0F4477"/>
<circle cx="440.9" cy="224.2" r="2.4" fill="#0F4477"/>
<circle cx="408.2" cy="216.9" r="2.4" fill="#8A8A8A"/>
<circle cx="375.1" cy="234.1" r="2.4" fill="#B40F34"/>
<circle cx="387" cy="224.4" r="2.4" fill="#B40F34"/>
<circle cx="399.1" cy="216.4" r="2.4" fill="#B40F34"/>
<circle cx="436.7" cy="201.0" r="2.4" fill="#B40F34"/>
<circle cx="415.6" cy="205.2" r="2.4" fill="#B40F34"/>
<circle cx="423.6" cy="219.6" r="2.4" fill="#B40F34"/>
<circle cx="436.7" cy="214.7" r="2.4" fill="#B40F34"/>
<circle cx="437.8" cy="213.6" r="2.4" fill="#B40F34"/>
<circle cx="451.1" cy="211.5" r="2.4" fill="#B40F34"/>
<circle cx="460.4" cy="214.7" r="2.4" fill="#B40F34"/>
<circle cx="469.5" cy="214.7" r="2.4" fill="#B40F34"/>
<circle cx="451.1" cy="218.9" r="2.4" fill="#B40F34"/>
<circle cx="454.7" cy="222.5" r="2.4" fill="#B40F34"/>
<circle cx="430" cy="229.5" r="2.4" fill="#B40F34"/>
<circle cx="449" cy="234.4" r="2.4" fill="#B40F34"/>
<circle cx="449.8" cy="243.7" r="2.4" fill="#B40F34"/>
<circle cx="460.75" cy="268.6" r="2.4" fill="#B40F34"/>
<circle cx="464.5" cy="268.6" r="2.4" fill="#B40F34"/>
<path d="M310.75 178.75 V272 H512.5" fill="none" stroke="#222" stroke-width="1.1"/>
<line x1="307.75" y1="198.6" x2="310.75" y2="198.6" stroke="#222" stroke-width="1"/>
<text x="304.5" y="201.192" font-size="7.2" text-anchor="end" font-weight="normal" fill="#1a1a1a" stroke="#1a1a1a" stroke-width="0.2" font-style="normal" textLength="10.2" lengthAdjust="spacingAndGlyphs">0.3</text>
<line x1="307.75" y1="223" x2="310.75" y2="223" stroke="#222" stroke-width="1"/>
<text x="304.5" y="225.592" font-size="7.2" text-anchor="end" font-weight="normal" fill="#1a1a1a" stroke="#1a1a1a" stroke-width="0.2" font-style="normal" textLength="10.2" lengthAdjust="spacingAndGlyphs">0.0</text>
<line x1="307.75" y1="247.8" x2="310.75" y2="247.8" stroke="#222" stroke-width="1"/>
<text x="304.5" y="250.39200000000002" font-size="7.2" text-anchor="end" font-weight="normal" fill="#1a1a1a" stroke="#1a1a1a" stroke-width="0.2" font-style="normal" textLength="15.8" lengthAdjust="spacingAndGlyphs">−0.3</text>
<line x1="324.75" y1="272" x2="324.75" y2="275" stroke="#222" stroke-width="1"/>
<text x="324.75" y="285" font-size="7.2" text-anchor="middle" font-weight="normal" fill="#1a1a1a" stroke="#1a1a1a" stroke-width="0.2" font-style="normal" textLength="19.8" lengthAdjust="spacingAndGlyphs">−0.50</text>
<line x1="373" y1="272" x2="373" y2="275" stroke="#222" stroke-width="1"/>
<text x="373" y="285" font-size="7.2" text-anchor="middle" font-weight="normal" fill="#1a1a1a" stroke="#1a1a1a" stroke-width="0.2" font-style="normal" textLength="19.8" lengthAdjust="spacingAndGlyphs">−0.25</text>
<line x1="421.25" y1="272" x2="421.25" y2="275" stroke="#222" stroke-width="1"/>
<text x="421.25" y="285" font-size="7.2" text-anchor="middle" font-weight="normal" fill="#1a1a1a" stroke="#1a1a1a" stroke-width="0.2" font-style="normal" textLength="15.4" lengthAdjust="spacingAndGlyphs">0.00</text>
<line x1="469.5" y1="272" x2="469.5" y2="275" stroke="#222" stroke-width="1"/>
<text x="469.5" y="285" font-size="7.2" text-anchor="middle" font-weight="normal" fill="#1a1a1a" stroke="#1a1a1a" stroke-width="0.2" font-style="normal" textLength="15.4" lengthAdjust="spacingAndGlyphs">0.25</text>
<text transform="translate(411.6,298.0) scale(0.7,1)" x="0" y="0" font-size="8.9" text-anchor="middle" font-weight="normal" fill="#1c1c1c" stroke="#1c1c1c" stroke-width="0.32" font-style="normal" textLength="47.57" lengthAdjust="spacing">PC1 (8.1%)</text>
<text transform="translate(282.7,225.25) rotate(-90) scale(0.7,1)" x="0" y="0" font-size="8.9" text-anchor="middle" font-weight="normal" fill="#1c1c1c" stroke="#1c1c1c" stroke-width="0.32" font-style="normal" textLength="46.14" lengthAdjust="spacing">PC2 (4.8%)</text>
<text x="485.4" y="191.6" font-size="8.0" text-anchor="start" font-weight="normal" fill="#222" stroke="#222" stroke-width="0.12" font-style="italic">P</text>
<text x="492.0" y="191.6" font-size="8.0" text-anchor="start" font-weight="normal" fill="#222" stroke="#222" stroke-width="0.16" font-style="normal" textLength="17.9" lengthAdjust="spacingAndGlyphs">= .05</text>
<text x="329.8" y="309.7" font-size="7.4" text-anchor="start" font-weight="normal" fill="#1c1c1c" stroke="#1c1c1c" stroke-width="0.16" font-style="normal" textLength="46.5" lengthAdjust="spacingAndGlyphs">CXCL1 day 29</text>
<line x1="381.59999999999997" y1="307" x2="390.8" y2="307" stroke="#0F4477" stroke-width="1.2"/>
<circle cx="386.2" cy="307" r="2.2" fill="#0F4477"/>
<text x="393.2" y="309.7" font-size="7.4" text-anchor="start" font-weight="normal" fill="#1c1c1c" stroke="#1c1c1c" stroke-width="0.16" font-style="normal" textLength="37.4" lengthAdjust="spacingAndGlyphs">&lt; 87 pg/mL</text>
<line x1="437.5" y1="307" x2="446.70000000000005" y2="307" stroke="#B40F34" stroke-width="1.2"/>
<circle cx="442.1" cy="307" r="2.2" fill="#B40F34"/>
<text x="448.8" y="309.7" font-size="7.4" text-anchor="start" font-weight="normal" fill="#1c1c1c" stroke="#1c1c1c" stroke-width="0.16" font-style="normal" textLength="42.7" lengthAdjust="spacingAndGlyphs">&gt;/= 87 pg/mL</text>
<text x="6.5" y="335.8" font-size="11.5" text-anchor="start" font-weight="bold" fill="#111" stroke="#111" stroke-width="0.6" font-style="normal">E</text>
<text x="110.9" y="340.75" font-size="9.0" text-anchor="start" font-weight="normal" fill="#1c1c1c" stroke="#1c1c1c" stroke-width="0.12" font-style="normal" textLength="76.5" lengthAdjust="spacingAndGlyphs">Day 29 microbiome</text>
<ellipse cx="180.47" cy="385.28" rx="60.39" ry="34.38" transform="rotate(10.37 180.47 385.28)" fill="none" stroke="#AA2541" stroke-width="1.0"/>
<ellipse cx="136.2" cy="386.5" rx="80.8" ry="16.6" transform="rotate(-9.65 136.2 386.5)" fill="none" stroke="#2A5680" stroke-width="1.0"/>
<circle cx="99" cy="389.2" r="2.4" fill="#0F4477"/>
<circle cx="103.8" cy="389.6" r="2.4" fill="#0F4477"/>
<circle cx="105.8" cy="393.1" r="2.4" fill="#0F4477"/>
<circle cx="116.9" cy="379.6" r="2.4" fill="#0F4477"/>
<circle cx="126.5" cy="378.1" r="2.4" fill="#0F4477"/>
<circle cx="129.2" cy="388.1" r="2.4" fill="#0F4477"/>
<circle cx="113.8" cy="394.4" r="2.4" fill="#0F4477"/>
<circle cx="117.7" cy="398.3" r="2.4" fill="#0F4477"/>
<circle cx="127.9" cy="396.9" r="2.4" fill="#0F4477"/>
<circle cx="149.3" cy="393.4" r="2.4" fill="#0F4477"/>
<circle cx="181.9" cy="362.2" r="2.4" fill="#0F4477"/>
<circle cx="158" cy="372.1" r="2.4" fill="#0F4477"/>
<circle cx="158" cy="386.9" r="2.4" fill="#0F4477"/>
<circle cx="177" cy="380.2" r="2.4" fill="#0F4477"/>
<circle cx="206" cy="377.6" r="2.4" fill="#0F4477"/>
<circle cx="221" cy="375.5" r="2.4" fill="#0F4477"/>
<circle cx="152.3" cy="379.5" r="2.4" fill="#8A8A8A"/>
<circle cx="120.8" cy="389.2" r="2.4" fill="#B40F34"/>
<circle cx="131.7" cy="384.8" r="2.4" fill="#B40F34"/>
<circle cx="142.4" cy="379.3" r="2.4" fill="#B40F34"/>
<circle cx="148.5" cy="384.2" r="2.4" fill="#B40F34"/>
<circle cx="159.5" cy="367.1" r="2.4" fill="#B40F34"/>
<circle cx="167.5" cy="382.7" r="2.4" fill="#B40F34"/>
<circle cx="181.2" cy="377.6" r="2.4" fill="#B40F34"/>
<circle cx="182.9" cy="376.4" r="2.4" fill="#B40F34"/>
<circle cx="191.8" cy="379.1" r="2.4" fill="#B40F34"/>
<circle cx="196" cy="373.4" r="2.4" fill="#B40F34"/>
<circle cx="196.7" cy="374.9" r="2.4" fill="#B40F34"/>
<circle cx="196" cy="381.9" r="2.4" fill="#B40F34"/>
<circle cx="215.7" cy="377.4" r="2.4" fill="#B40F34"/>
<circle cx="200.3" cy="386.5" r="2.4" fill="#B40F34"/>
<circle cx="186.1" cy="387.6" r="2.4" fill="#B40F34"/>
<circle cx="174.2" cy="392.9" r="2.4" fill="#B40F34"/>
<circle cx="193.9" cy="398.8" r="2.4" fill="#B40F34"/>
<circle cx="195.4" cy="408.7" r="2.4" fill="#B40F34"/>
<circle cx="206.25" cy="435" r="2.4" fill="#B40F34"/>
<circle cx="210.5" cy="435.5" r="2.4" fill="#B40F34"/>
<path d="M47.5 346.1 V439.3 H249.5" fill="none" stroke="#222" stroke-width="1.1"/>
<line x1="44.5" y1="350.7" x2="47.5" y2="350.7" stroke="#222" stroke-width="1"/>
<text x="40.75" y="353.292" font-size="7.2" text-anchor="end" font-weight="normal" fill="#1a1a1a" stroke="#1a1a1a" stroke-width="0.2" font-style="normal" textLength="10.2" lengthAdjust="spacingAndGlyphs">0.4</text>
<line x1="44.5" y1="368.4" x2="47.5" y2="368.4" stroke="#222" stroke-width="1"/>
<text x="40.75" y="370.99199999999996" font-size="7.2" text-anchor="end" font-weight="normal" fill="#1a1a1a" stroke="#1a1a1a" stroke-width="0.2" font-style="normal" textLength="10.2" lengthAdjust="spacingAndGlyphs">0.2</text>
<line x1="44.5" y1="386" x2="47.5" y2="386" stroke="#222" stroke-width="1"/>
<text x="40.75" y="388.592" font-size="7.2" text-anchor="end" font-weight="normal" fill="#1a1a1a" stroke="#1a1a1a" stroke-width="0.2" font-style="normal" textLength="10.2" lengthAdjust="spacingAndGlyphs">0.0</text>
<line x1="44.5" y1="403.7" x2="47.5" y2="403.7" stroke="#222" stroke-width="1"/>
<text x="40.75" y="406.292" font-size="7.2" text-anchor="end" font-weight="normal" fill="#1a1a1a" stroke="#1a1a1a" stroke-width="0.2" font-style="normal" textLength="15.8" lengthAdjust="spacingAndGlyphs">−0.2</text>
<line x1="44.5" y1="421.4" x2="47.5" y2="421.4" stroke="#222" stroke-width="1"/>
<text x="40.75" y="423.99199999999996" font-size="7.2" text-anchor="end" font-weight="normal" fill="#1a1a1a" stroke="#1a1a1a" stroke-width="0.2" font-style="normal" textLength="15.8" lengthAdjust="spacingAndGlyphs">−0.4</text>
<line x1="84.5" y1="439.3" x2="84.5" y2="442.3" stroke="#222" stroke-width="1"/>
<text x="84.5" y="452.5" font-size="7.2" text-anchor="middle" font-weight="normal" fill="#1a1a1a" stroke="#1a1a1a" stroke-width="0.2" font-style="normal" textLength="15.8" lengthAdjust="spacingAndGlyphs">−0.4</text>
<line x1="124.75" y1="439.3" x2="124.75" y2="442.3" stroke="#222" stroke-width="1"/>
<text x="124.75" y="452.5" font-size="7.2" text-anchor="middle" font-weight="normal" fill="#1a1a1a" stroke="#1a1a1a" stroke-width="0.2" font-style="normal" textLength="15.8" lengthAdjust="spacingAndGlyphs">−0.2</text>
<line x1="165" y1="439.3" x2="165" y2="442.3" stroke="#222" stroke-width="1"/>
<text x="165" y="452.5" font-size="7.2" text-anchor="middle" font-weight="normal" fill="#1a1a1a" stroke="#1a1a1a" stroke-width="0.2" font-style="normal" textLength="10.2" lengthAdjust="spacingAndGlyphs">0.0</text>
<line x1="205.25" y1="439.3" x2="205.25" y2="442.3" stroke="#222" stroke-width="1"/>
<text x="205.25" y="452.5" font-size="7.2" text-anchor="middle" font-weight="normal" fill="#1a1a1a" stroke="#1a1a1a" stroke-width="0.2" font-style="normal" textLength="10.2" lengthAdjust="spacingAndGlyphs">0.2</text>
<line x1="245.5" y1="439.3" x2="245.5" y2="442.3" stroke="#222" stroke-width="1"/>
<text x="245.5" y="452.5" font-size="7.2" text-anchor="middle" font-weight="normal" fill="#1a1a1a" stroke="#1a1a1a" stroke-width="0.2" font-style="normal" textLength="10.2" lengthAdjust="spacingAndGlyphs">0.4</text>
<text transform="translate(148.5,465.5) scale(0.7,1)" x="0" y="0" font-size="8.9" text-anchor="middle" font-weight="normal" fill="#1c1c1c" stroke="#1c1c1c" stroke-width="0.32" font-style="normal" textLength="47.57" lengthAdjust="spacing">PC1 (8.1%)</text>
<text transform="translate(20.0,392.65) rotate(-90) scale(0.7,1)" x="0" y="0" font-size="8.9" text-anchor="middle" font-weight="normal" fill="#1c1c1c" stroke="#1c1c1c" stroke-width="0.32" font-style="normal" textLength="46.14" lengthAdjust="spacing">PC2 (4.8%)</text>
<text x="217" y="355" font-size="8.0" text-anchor="start" font-weight="normal" fill="#222" stroke="#222" stroke-width="0.12" font-style="italic">P</text>
<text x="223.6" y="355" font-size="8.0" text-anchor="start" font-weight="normal" fill="#222" stroke="#222" stroke-width="0.16" font-style="normal" textLength="21.3" lengthAdjust="spacingAndGlyphs">= .001</text>
<text x="66.8" y="477" font-size="7.4" text-anchor="start" font-weight="normal" fill="#1c1c1c" stroke="#1c1c1c" stroke-width="0.16" font-style="normal" textLength="46.1" lengthAdjust="spacingAndGlyphs">CXCL8 day 29</text>
<line x1="119.4" y1="474.25" x2="128.6" y2="474.25" stroke="#0F4477" stroke-width="1.2"/>
<circle cx="124" cy="474.25" r="2.2" fill="#0F4477"/>
<text x="131.4" y="477" font-size="7.4" text-anchor="start" font-weight="normal" fill="#1c1c1c" stroke="#1c1c1c" stroke-width="0.16" font-style="normal" textLength="36.3" lengthAdjust="spacingAndGlyphs">&lt; 13 pg/mL</text>
<line x1="173.70000000000002" y1="474.25" x2="182.9" y2="474.25" stroke="#B40F34" stroke-width="1.2"/>
<circle cx="178.3" cy="474.25" r="2.2" fill="#B40F34"/>
<text x="186" y="477" font-size="7.4" text-anchor="start" font-weight="normal" fill="#1c1c1c" stroke="#1c1c1c" stroke-width="0.16" font-style="normal" textLength="42.8" lengthAdjust="spacingAndGlyphs">&gt;/= 13 pg/mL</text>
<text x="270.0" y="335.8" font-size="11.5" text-anchor="start" font-weight="bold" fill="#111" stroke="#111" stroke-width="0.6" font-style="normal">F</text>
<text x="375.5" y="340.75" font-size="9.0" text-anchor="start" font-weight="normal" fill="#1c1c1c" stroke="#1c1c1c" stroke-width="0.12" font-style="normal" textLength="77" lengthAdjust="spacingAndGlyphs">Day 29 microbiome</text>
<ellipse cx="427.93" cy="384.15" rx="77.14" ry="33.32" transform="rotate(-4.38 427.93 384.15)" fill="none" stroke="#AA2541" stroke-width="1.0"/>
<ellipse cx="402.3" cy="385.6" rx="78.9" ry="18.7" transform="rotate(-3.0 402.3 385.6)" fill="none" stroke="#2A5680" stroke-width="1.0"/>
<circle cx="357.4" cy="389.6" r="2.4" fill="#0F4477"/>
<circle cx="361.3" cy="389.6" r="2.4" fill="#0F4477"/>
<circle cx="374.2" cy="398.8" r="2.4" fill="#0F4477"/>
<circle cx="373.8" cy="380" r="2.4" fill="#0F4477"/>
<circle cx="383" cy="378.5" r="2.4" fill="#0F4477"/>
<circle cx="377.6" cy="389.6" r="2.4" fill="#0F4477"/>
<circle cx="387.2" cy="385.4" r="2.4" fill="#0F4477"/>
<circle cx="384.3" cy="397.3" r="2.4" fill="#0F4477"/>
<circle cx="397.8" cy="380" r="2.4" fill="#0F4477"/>
<circle cx="403.6" cy="384.8" r="2.4" fill="#0F4477"/>
<circle cx="412.3" cy="387.6" r="2.4" fill="#0F4477"/>
<circle cx="412.8" cy="372.7" r="2.4" fill="#0F4477"/>
<circle cx="422.3" cy="383.3" r="2.4" fill="#0F4477"/>
<circle cx="430.8" cy="380.6" r="2.4" fill="#0F4477"/>
<circle cx="449" cy="373.8" r="2.4" fill="#0F4477"/>
<circle cx="453.2" cy="386.9" r="2.4" fill="#0F4477"/>
<circle cx="472.7" cy="376.4" r="2.4" fill="#0F4477"/>
<circle cx="447.3" cy="398.8" r="2.4" fill="#0F4477"/>
<circle cx="448.3" cy="408.7" r="2.4" fill="#0F4477"/>
<circle cx="406.8" cy="380.1" r="2.4" fill="#8A8A8A"/>
<circle cx="363.2" cy="393.5" r="2.4" fill="#B40F34"/>
<circle cx="370.9" cy="395" r="2.4" fill="#B40F34"/>
<circle cx="385.7" cy="388.7" r="2.4" fill="#B40F34"/>
<circle cx="404.9" cy="393.8" r="2.4" fill="#B40F34"/>
<circle cx="414" cy="368" r="2.4" fill="#B40F34"/>
<circle cx="435.7" cy="362.8" r="2.4" fill="#B40F34"/>
<circle cx="435" cy="378.1" r="2.4" fill="#B40F34"/>
<circle cx="436.3" cy="377" r="2.4" fill="#B40F34"/>
<circle cx="444.7" cy="379.7" r="2.4" fill="#B40F34"/>
<circle cx="449.8" cy="375.5" r="2.4" fill="#B40F34"/>
<circle cx="449.4" cy="382.3" r="2.4" fill="#B40F34"/>
<circle cx="458.5" cy="378.1" r="2.4" fill="#B40F34"/>
<circle cx="468" cy="378.1" r="2.4" fill="#B40F34"/>
<circle cx="439.5" cy="388.2" r="2.4" fill="#B40F34"/>
<circle cx="428.7" cy="393.3" r="2.4" fill="#B40F34"/>
<circle cx="458.75" cy="435" r="2.4" fill="#B40F34"/>
<circle cx="462.5" cy="435" r="2.4" fill="#B40F34"/>
<path d="M315 346.25 V439.5 H513" fill="none" stroke="#222" stroke-width="1.1"/>
<line x1="312" y1="364.6" x2="315" y2="364.6" stroke="#222" stroke-width="1"/>
<text x="308.75" y="367.192" font-size="7.2" text-anchor="end" font-weight="normal" fill="#1a1a1a" stroke="#1a1a1a" stroke-width="0.2" font-style="normal" textLength="15.4" lengthAdjust="spacingAndGlyphs">0.25</text>
<line x1="312" y1="386.9" x2="315" y2="386.9" stroke="#222" stroke-width="1"/>
<text x="308.75" y="389.49199999999996" font-size="7.2" text-anchor="end" font-weight="normal" fill="#1a1a1a" stroke="#1a1a1a" stroke-width="0.2" font-style="normal" textLength="15.4" lengthAdjust="spacingAndGlyphs">0.00</text>
<line x1="312" y1="409" x2="315" y2="409" stroke="#222" stroke-width="1"/>
<text x="308.75" y="411.592" font-size="7.2" text-anchor="end" font-weight="normal" fill="#1a1a1a" stroke="#1a1a1a" stroke-width="0.2" font-style="normal" textLength="19.8" lengthAdjust="spacingAndGlyphs">−0.25</text>
<line x1="312" y1="431.1" x2="315" y2="431.1" stroke="#222" stroke-width="1"/>
<text x="308.75" y="433.692" font-size="7.2" text-anchor="end" font-weight="normal" fill="#1a1a1a" stroke="#1a1a1a" stroke-width="0.2" font-style="normal" textLength="19.8" lengthAdjust="spacingAndGlyphs">−0.50</text>
<line x1="323.5" y1="439.5" x2="323.5" y2="442.5" stroke="#222" stroke-width="1"/>
<text x="323.5" y="452.5" font-size="7.2" text-anchor="middle" font-weight="normal" fill="#1a1a1a" stroke="#1a1a1a" stroke-width="0.2" font-style="normal" textLength="19.8" lengthAdjust="spacingAndGlyphs">−0.50</text>
<line x1="371.5" y1="439.5" x2="371.5" y2="442.5" stroke="#222" stroke-width="1"/>
<text x="371.5" y="452.5" font-size="7.2" text-anchor="middle" font-weight="normal" fill="#1a1a1a" stroke="#1a1a1a" stroke-width="0.2" font-style="normal" textLength="19.8" lengthAdjust="spacingAndGlyphs">−0.25</text>
<line x1="419.5" y1="439.5" x2="419.5" y2="442.5" stroke="#222" stroke-width="1"/>
<text x="419.5" y="452.5" font-size="7.2" text-anchor="middle" font-weight="normal" fill="#1a1a1a" stroke="#1a1a1a" stroke-width="0.2" font-style="normal" textLength="15.4" lengthAdjust="spacingAndGlyphs">0.00</text>
<line x1="467.5" y1="439.5" x2="467.5" y2="442.5" stroke="#222" stroke-width="1"/>
<text x="467.5" y="452.5" font-size="7.2" text-anchor="middle" font-weight="normal" fill="#1a1a1a" stroke="#1a1a1a" stroke-width="0.2" font-style="normal" textLength="15.4" lengthAdjust="spacingAndGlyphs">0.25</text>
<text transform="translate(413.6,466.0) scale(0.7,1)" x="0" y="0" font-size="8.9" text-anchor="middle" font-weight="normal" fill="#1c1c1c" stroke="#1c1c1c" stroke-width="0.32" font-style="normal" textLength="47.57" lengthAdjust="spacing">PC1 (8.1%)</text>
<text transform="translate(282.7,392.65) rotate(-90) scale(0.7,1)" x="0" y="0" font-size="8.9" text-anchor="middle" font-weight="normal" fill="#1c1c1c" stroke="#1c1c1c" stroke-width="0.32" font-style="normal" textLength="46.14" lengthAdjust="spacing">PC2 (4.8%)</text>
<text x="485.4" y="353.4" font-size="8.0" text-anchor="start" font-weight="normal" fill="#222" stroke="#222" stroke-width="0.12" font-style="italic">P</text>
<text x="492.0" y="353.4" font-size="8.0" text-anchor="start" font-weight="normal" fill="#222" stroke="#222" stroke-width="0.16" font-style="normal" textLength="17.0" lengthAdjust="spacingAndGlyphs">= .07</text>
<text x="335.5" y="477" font-size="7.4" text-anchor="start" font-weight="normal" fill="#1c1c1c" stroke="#1c1c1c" stroke-width="0.16" font-style="normal" textLength="48.25" lengthAdjust="spacingAndGlyphs">G−CSF day 29</text>
<line x1="389.9" y1="474.25" x2="399.1" y2="474.25" stroke="#0F4477" stroke-width="1.2"/>
<circle cx="394.5" cy="474.25" r="2.2" fill="#0F4477"/>
<text x="400.6" y="477" font-size="7.4" text-anchor="start" font-weight="normal" fill="#1c1c1c" stroke="#1c1c1c" stroke-width="0.16" font-style="normal" textLength="33.2" lengthAdjust="spacingAndGlyphs">&lt; 9 pg/mL</text>
<line x1="440.0" y1="474.25" x2="449.20000000000005" y2="474.25" stroke="#B40F34" stroke-width="1.2"/>
<circle cx="444.6" cy="474.25" r="2.2" fill="#B40F34"/>
<text x="450.8" y="477" font-size="7.4" text-anchor="start" font-weight="normal" fill="#1c1c1c" stroke="#1c1c1c" stroke-width="0.16" font-style="normal" textLength="40.9" lengthAdjust="spacingAndGlyphs">&gt;/= 9 pg/mL</text>
<rect x="0" y="0" width="520" height="1" fill="#555"/>
<rect x="0" y="0" width="1" height="485" fill="#5a5a5a"/>
<rect x="518.7" y="0" width="1.3" height="485" fill="#444"/>
<rect x="0" y="483.7" width="520" height="1.3" fill="#444"/>
</svg>
</body></html>
